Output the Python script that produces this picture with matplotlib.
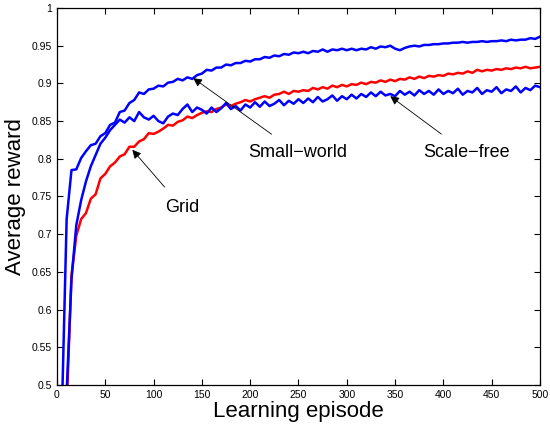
import matplotlib
matplotlib.use('Agg')
import matplotlib.pyplot as plt

plt.rcParams['font.family'] = ['Liberation Sans', 'DejaVu Sans']

# learning episodes: 1, 5, 10, ..., 500
episodes = [1] + list(range(5, 501, 5))

grid = [
    0.300, 0.380, 0.470, 0.645, 0.698, 0.720, 0.728, 0.747, 0.753, 0.774,
    0.780, 0.790, 0.795, 0.803, 0.806, 0.816, 0.816, 0.823, 0.826, 0.834,
    0.833, 0.836, 0.840, 0.845, 0.844, 0.849, 0.851, 0.856, 0.854, 0.858,
    0.861, 0.863, 0.862, 0.866, 0.868, 0.872, 0.870, 0.873, 0.875, 0.878,
    0.876, 0.879, 0.881, 0.883, 0.881, 0.885, 0.886, 0.889, 0.886, 0.890,
    0.889, 0.891, 0.890, 0.894, 0.892, 0.895, 0.893, 0.897, 0.895, 0.898,
    0.896, 0.899, 0.898, 0.901, 0.899, 0.902, 0.901, 0.904, 0.902, 0.905,
    0.903, 0.906, 0.905, 0.908, 0.906, 0.909, 0.907, 0.910, 0.909, 0.911,
    0.910, 0.913, 0.912, 0.914, 0.913, 0.916, 0.914, 0.918, 0.916, 0.918,
    0.917, 0.919, 0.918, 0.920, 0.919, 0.921, 0.920, 0.922, 0.920, 0.921,
    0.922,
]

small_world = [
    0.300, 0.460, 0.720, 0.785, 0.786, 0.801, 0.810, 0.818, 0.820, 0.830,
    0.834, 0.845, 0.848, 0.862, 0.864, 0.874, 0.878, 0.888, 0.886, 0.892,
    0.893, 0.897, 0.896, 0.901, 0.902, 0.906, 0.904, 0.908, 0.906, 0.911,
    0.913, 0.918, 0.917, 0.921, 0.921, 0.925, 0.924, 0.927, 0.927, 0.930,
    0.929, 0.932, 0.932, 0.935, 0.934, 0.937, 0.936, 0.939, 0.938, 0.941,
    0.940, 0.942, 0.940, 0.943, 0.942, 0.945, 0.942, 0.945, 0.944, 0.946,
    0.944, 0.946, 0.944, 0.946, 0.945, 0.948, 0.946, 0.949, 0.948, 0.950,
    0.946, 0.944, 0.947, 0.949, 0.950, 0.949, 0.951, 0.951, 0.952, 0.952,
    0.953, 0.953, 0.954, 0.954, 0.955, 0.954, 0.955, 0.955, 0.956, 0.955,
    0.956, 0.956, 0.957, 0.956, 0.958, 0.957, 0.958, 0.958, 0.960, 0.959,
    0.962,
]

scale_free = [
    0.300, 0.360, 0.490, 0.640, 0.712, 0.745, 0.770, 0.790, 0.805, 0.820,
    0.828, 0.838, 0.845, 0.852, 0.848, 0.855, 0.850, 0.862, 0.855, 0.852,
    0.857, 0.850, 0.847, 0.856, 0.860, 0.858, 0.866, 0.872, 0.862, 0.868,
    0.865, 0.860, 0.868, 0.862, 0.867, 0.874, 0.866, 0.870, 0.864, 0.872,
    0.868, 0.875, 0.869, 0.876, 0.870, 0.873, 0.878, 0.871, 0.877, 0.873,
    0.879, 0.874, 0.880, 0.875, 0.882, 0.876, 0.879, 0.884, 0.877, 0.883,
    0.879, 0.885, 0.880, 0.886, 0.882, 0.888, 0.883, 0.889, 0.884, 0.886,
    0.883, 0.890, 0.885, 0.889, 0.884, 0.891, 0.886, 0.890, 0.885, 0.892,
    0.886, 0.890, 0.887, 0.893, 0.885, 0.890, 0.888, 0.894, 0.886, 0.891,
    0.889, 0.895, 0.887, 0.892, 0.890, 0.896, 0.888, 0.894, 0.891, 0.897,
    0.895,
]

labels = ['Grid', 'Small\u2212world', 'Scale\u2212free']
# text position and arrow tip (episode, reward)
label_pos = [(130, 0.735), (249, 0.808), (424, 0.808)]
arrow_tip = [(78, 0.812), (141, 0.907), (345, 0.883)]

fig = plt.figure(figsize=(5.5, 4.3), dpi=100)
ax = fig.add_axes([0.1036, 0.1047, 0.8782, 0.8767])

ax.plot(episodes, grid, color='red', lw=1.8)
ax.plot(episodes, small_world, color='blue', lw=1.8)
ax.plot(episodes, scale_free, color='blue', lw=1.8)

for lab, pos, tip in zip(labels, label_pos, arrow_tip):
    ax.annotate(lab, xy=tip, xytext=pos, fontsize=13, ha='center', va='center',
                arrowprops=dict(arrowstyle='-|>', color='black', lw=0.6,
                                mutation_scale=13, shrinkA=9, shrinkB=0))

ax.set_xlim(0, 500)
ax.set_ylim(0.5, 1)
ax.set_xticks(range(0, 501, 50))
ax.set_yticks([0.5, 0.55, 0.6, 0.65, 0.7, 0.75, 0.8, 0.85, 0.9, 0.95, 1])
ax.set_yticklabels(['0.5', '0.55', '0.6', '0.65', '0.7', '0.75', '0.8', '0.85', '0.9', '0.95', '1'])
ax.tick_params(direction='in', top=True, right=True, length=4, width=0.8, labelsize=7.5)
for s in ax.spines.values():
    s.set_linewidth(0.9)

ax.set_xlabel('Learning episode', fontsize=16, labelpad=1)
ax.set_ylabel('Average reward', fontsize=16, labelpad=4)

fig.savefig('out.png', dpi=100)
